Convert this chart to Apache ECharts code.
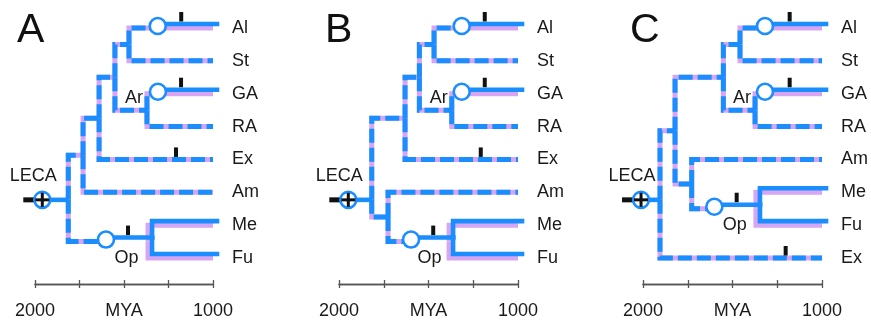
<!DOCTYPE html>
<html><head><meta charset="utf-8">
<script src="https://cdn.jsdelivr.net/npm/echarts@6/dist/echarts.min.js"></script>
<style>html,body{margin:0;padding:0;background:#fff}#c{width:871px;height:320px}</style>
</head><body><div id="c"></div>
<script>
// ---------------- DATA ----------------
const panelLetters = ['A', 'B', 'C'];
const taxaA = ['Al', 'St', 'GA', 'RA', 'Ex', 'Am', 'Me', 'Fu'];
const taxaB = ['Al', 'St', 'GA', 'RA', 'Ex', 'Am', 'Me', 'Fu'];
const taxaC = ['Al', 'St', 'GA', 'RA', 'Am', 'Me', 'Fu', 'Ex'];
const tickValues = [2000, 1750, 1500, 1250, 1000];
const tickLabels = ['2000', '', 'MYA', '', '1000'];

// [node, parent, age (MYA), age of state change (circle) or null]
const treeA = [
  ['root', null, 1813, null],
  ['N1', 'root', 1730, null],
  ['N2', 'N1', 1640, null],
  ['N3', 'N2', 1551, null],
  ['N4', 'N3', 1472, null],
  ['Ar', 'N3', 1371, null],
  ['Al', 'N4', 1000, 1316],
  ['St', 'N4', 1000, null],
  ['GA', 'Ar', 1000, 1315],
  ['RA', 'Ar', 1000, null],
  ['Ex', 'N2', 1000, null],
  ['Am', 'N1', 1000, null],
  ['Op', 'root', 1365, 1607],
  ['Me', 'Op', 1000, null],
  ['Fu', 'Op', 1000, null]
];
const treeB = [
  ['root', null, 1817, null],
  ['N1', 'root', 1631, null],
  ['N3', 'N1', 1551, null],
  ['N4', 'N3', 1469, null],
  ['Ar', 'N3', 1370, null],
  ['Al', 'N4', 1000, 1320],
  ['St', 'N4', 1000, null],
  ['GA', 'Ar', 1000, 1320],
  ['RA', 'Ar', 1000, null],
  ['Ex', 'N1', 1000, null],
  ['L', 'root', 1726, null],
  ['Am', 'L', 1000, null],
  ['Op', 'L', 1385, 1603],
  ['Me', 'Op', 1000, null],
  ['Fu', 'Op', 1000, null]
];
const treeC = [
  ['root', null, 1905, null],
  ['N1', 'root', 1821, null],
  ['N3', 'N1', 1551, null],
  ['N4', 'N3', 1458, null],
  ['Ar', 'N3', 1374, null],
  ['Al', 'N4', 1000, 1324],
  ['St', 'N4', 1000, null],
  ['GA', 'Ar', 1000, 1324],
  ['RA', 'Ar', 1000, null],
  ['L', 'N1', 1728, null],
  ['Am', 'L', 1000, null],
  ['Op', 'L', 1369, 1607],
  ['Me', 'Op', 1000, null],
  ['Fu', 'Op', 1000, null],
  ['Ex', 'root', 1000, null]
];
// LECA position (MYA)
const lecaA = 1959, lecaB = 1948, lecaC = 2011;
// black tick marks: [branch (node it leads to), age]
const ticksA = [['Al', 1201], ['GA', 1202], ['Ex', 1208], ['Op', 1500]];
const ticksB = [['Al', 1208], ['GA', 1208], ['Ex', 1208], ['Op', 1496]];
const ticksC = [['Al', 1203], ['GA', 1203], ['Op', 1499], ['Ex', 1203]];

// ---------------- STYLE ----------------
const BLUE = '#1a8dff', PINK = '#d6a6f4', INK = '#1a1a1a', AXIS = '#555';
const FONT = '"Liberation Sans", Arial, Helvetica, sans-serif';
const ROOT_ROW = 5.23;
const SDX = 4, SDY = -4;       // pixel shift of solid blue branches
const DASH = [14, 5];
const FS = 18;

function buildPrims(tree, taxa, leca, ticks) {
  const nodes = {};
  tree.forEach(([name, parent, age, change]) => nodes[name] = {name, parent, age, change, children: []});
  let root = null;
  tree.forEach(([name, parent]) => { if (parent) nodes[parent].children.push(nodes[name]); else root = nodes[name]; });
  function rowOf(n) {
    if (n.row !== undefined) return n.row;
    n.row = n.children.length ? n.children.reduce((s, c) => s + rowOf(c), 0) / n.children.length : taxa.indexOf(n.name);
    return n.row;
  }
  Object.values(nodes).forEach(rowOf);
  root.row = ROOT_ROW;
  function solid(n) { return n.change != null || (n.parent ? solid(nodes[n.parent]) : false); }
  const prims = [];
  Object.values(nodes).forEach(n => {
    if (!n.parent) return;
    const p = nodes[n.parent];
    const tip = n.children.length === 0;
    if (solid(p)) {
      const pts = [[p.age, p.row], [p.age, n.row], [n.age, n.row]];
      if (tip) prims.push({k: 'pink', pts});
      prims.push({k: 'solid', pts});
    } else if (n.change != null) {
      const d = [[p.age, p.row], [p.age, n.row], [n.change, n.row]];
      const s = [[n.change, n.row], [n.age, n.row]];
      prims.push({k: 'pink', pts: d});
      prims.push({k: 'dash', pts: d});
      if (tip) prims.push({k: 'pink', pts: s});
      prims.push({k: 'solid', pts: s});
      prims.push({k: 'circle', at: [n.change, n.row]});
    } else {
      const pts = [[p.age, p.row], [p.age, n.row], [n.age, n.row]];
      prims.push({k: 'pink', pts});
      prims.push({k: 'dash', pts});
    }
  });
  ticks.forEach(([name, age]) => {
    const n = nodes[name], p = nodes[n.parent];
    const s = solid(p) || (n.change != null && age < n.change);
    prims.push({k: 'tick', at: [age, n.row], s});
  });
  prims.push({k: 'stem', pts: [[leca, root.row], [root.age, root.row]]});
  prims.push({k: 'leca', at: [leca, root.row]});
  prims.push({k: 'text', at: [leca, root.row], text: 'LECA', dx: -9, dy: -24, align: 'center'});
  const ar = nodes['Ar'];
  prims.push({k: 'text', at: [ar.age, ar.row], text: 'Ar', dx: -4, dy: -12, align: 'right'});
  const op = nodes['Op'];
  prims.push({k: 'text', at: [(op.change + op.age) / 2, op.row], text: 'Op', dx: 0, dy: 16, align: 'center'});
  return prims;
}

function renderer(prims) {
  return function (params, api) {
    const p = prims[params.dataIndex];
    const c = pt => api.coord(pt);
    if (p.k === 'pink' || p.k === 'dash' || p.k === 'solid' || p.k === 'stem') {
      let pts = p.pts.map(c);
      if (p.k === 'solid') pts = pts.map(q => [q[0] + SDX, q[1] + SDY]);
      return {
        type: 'polyline', z2: p.k === 'pink' ? 1 : (p.k === 'dash' ? 2 : 3),
        shape: {points: pts},
        style: {
          fill: 'none', stroke: p.k === 'pink' ? PINK : BLUE,
          lineWidth: p.k === 'pink' ? 5 : (p.k === 'dash' ? 5 : 4.6),
          lineDash: p.k === 'dash' ? DASH : null,
          lineCap: p.k === 'solid' ? 'square' : 'butt', lineJoin: 'miter'
        }
      };
    }
    if (p.k === 'circle') {
      const q = c(p.at);
      return {type: 'circle', z2: 6, shape: {cx: q[0] + 1, cy: q[1] - 2, r: 8},
        style: {fill: '#fff', stroke: BLUE, lineWidth: 2.6}};
    }
    if (p.k === 'tick') {
      const q = c(p.at);
      const x = q[0] + (p.s ? SDX : 0), y = q[1] + (p.s ? SDY : 0);
      return {type: 'rect', z2: 5, shape: {x: x - 2, y: y - 12, width: 4, height: 9.5}, style: {fill: '#111'}};
    }
    if (p.k === 'leca') {
      const q = c(p.at);
      return {type: 'group', children: [
        {type: 'rect', z2: 5, shape: {x: q[0] - 19, y: q[1] - 2.5, width: 14, height: 5}, style: {fill: '#111'}},
        {type: 'circle', z2: 6, shape: {cx: q[0], cy: q[1], r: 8}, style: {fill: '#fff', stroke: BLUE, lineWidth: 2.6}},
        {type: 'line', z2: 7, shape: {x1: q[0] - 7, y1: q[1], x2: q[0] + 7, y2: q[1]}, style: {stroke: '#111', lineWidth: 3}},
        {type: 'line', z2: 7, shape: {x1: q[0], y1: q[1] - 7, x2: q[0], y2: q[1] + 7}, style: {stroke: '#111', lineWidth: 3}}
      ]};
    }
    if (p.k === 'text') {
      const q = c(p.at);
      return {type: 'text', z2: 8, style: {text: p.text, x: q[0] + p.dx, y: q[1] + p.dy,
        font: FS + 'px ' + FONT, fill: INK, textAlign: p.align, textVerticalAlign: 'middle',
        align: p.align, verticalAlign: 'middle'}};
    }
    return null;
  };
}

const panels = [
  {taxa: taxaA, tree: treeA, leca: lecaA, ticks: ticksA, left: 35, width: 178},
  {taxa: taxaB, tree: treeB, leca: lecaB, ticks: ticksB, left: 339, width: 179},
  {taxa: taxaC, tree: treeC, leca: lecaC, ticks: ticksC, left: 643, width: 179}
];

const GRID_TOP = 28, GRID_H = 230, AX_OFF = 26;
const grid = [], xAxis = [], yAxis = [], series = [], graphic = [];
const letterX = [17, 325, 630];
const fmt = v => { const i = tickValues.indexOf(v); return i >= 0 ? tickLabels[i] : ''; };
panels.forEach((pn, gi) => {
  // main tree grid (index gi)
  grid.push({left: pn.left, width: pn.width, top: GRID_TOP, height: GRID_H, outerBoundsMode: 'none'});
  xAxis.push({
    type: 'value', gridIndex: gi, min: 1000, max: 2000, interval: 250, inverse: true,
    position: 'bottom', offset: AX_OFF,
    axisLine: {show: true, onZero: false, lineStyle: {color: AXIS, width: 1.3}},
    axisTick: {show: true, inside: false, length: 4, lineStyle: {color: AXIS, width: 1.3}},
    axisLabel: {show: true, margin: 18, color: INK, fontSize: FS, fontFamily: FONT,
      showMinLabel: true, showMaxLabel: true, formatter: fmt},
    splitLine: {show: false}
  });
  yAxis.push({
    type: 'value', gridIndex: gi, min: 0, max: 7, interval: 1, inverse: true, position: 'right',
    axisLine: {show: false, onZero: false}, axisTick: {show: false}, splitLine: {show: false},
    axisLabel: {margin: 19, color: INK, fontSize: FS, fontFamily: FONT, align: 'left',
      formatter: v => pn.taxa[v] || ''}
  });
  const prims = buildPrims(pn.tree, pn.taxa, pn.leca, pn.ticks);
  series.push({
    type: 'custom', xAxisIndex: gi, yAxisIndex: gi, clip: false, silent: true, animation: false,
    data: prims.map((p, i) => [1500, 3, i]),
    renderItem: renderer(prims)
  });
  graphic.push({type: 'text', left: letterX[gi], top: 10,
    style: {text: panelLetters[gi], font: '41px ' + FONT, fill: '#111'}});
});
// thin helper grids whose top edge lies on the time axis: carry the upward half of the ticks
panels.forEach((pn, gi) => {
  const g = 3 + gi;
  grid.push({left: pn.left, width: pn.width, top: GRID_TOP + GRID_H + AX_OFF, height: 10, outerBoundsMode: 'none'});
  xAxis.push({
    type: 'value', gridIndex: g, min: 1000, max: 2000, interval: 250, inverse: true, position: 'top',
    axisLine: {show: true, onZero: false, lineStyle: {color: AXIS, width: 1.3}},
    axisTick: {show: true, inside: false, length: 4, lineStyle: {color: AXIS, width: 1.3}},
    axisLabel: {show: false}, splitLine: {show: false}
  });
  yAxis.push({type: 'value', gridIndex: g, min: 0, max: 1, show: false, axisLine: {onZero: false}, splitLine: {show: false}});
});

const chart = echarts.init(document.getElementById('c'), null, {renderer: 'canvas'});
chart.setOption({animation: false, backgroundColor: '#fff', grid, xAxis, yAxis, series, graphic});
</script></body></html>
